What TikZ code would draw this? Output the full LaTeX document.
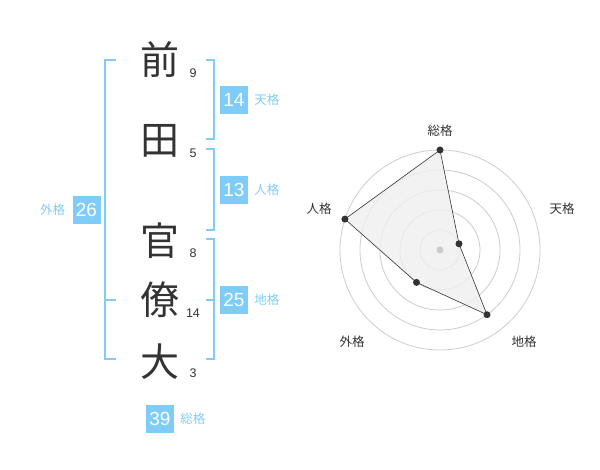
\documentclass[tikz,border=0pt]{standalone}
\usepackage{fontspec}
\setmainfont{Liberation Sans}
\newfontfamily\jp{Noto Sans CJK JP}
\usepackage{tikz}
\usetikzlibrary{calc,positioning}
\definecolor{skyb}{RGB}{128,204,249}
\definecolor{ink}{RGB}{51,51,51}
\definecolor{ring}{RGB}{204,204,204}
\definecolor{area}{RGB}{239,239,239}

\begin{document}
\begin{tikzpicture}[x=1pt,y=-1pt,
	kanji/.style={text=ink,font=\jp\fontsize{39}{39}\selectfont,inner sep=0pt},
	num/.style={text=ink,font=\fontsize{12.5}{12.5}\selectfont,inner sep=0pt},
	kaku/.style={fill=skyb,text=white,font=\fontsize{19}{19}\selectfont,minimum size=28pt,inner sep=0pt},
	kakulbl/.style={text=skyb,font=\jp\fontsize{12.5}{12.5}\selectfont,inner sep=0pt},
	brk/.style={draw=skyb,line width=2pt},
	axlbl/.style={text=ink,font=\jp\fontsize{12.5}{12.5}\selectfont,inner sep=0pt},
	pt/.style={fill=ink}]
					\useasboundingbox (0,0) rectangle (600,470);
					%NAME
					\node[kanji] (c1) at (160,60) {前};
					\node[kanji] (c2) at (160,141) {田};
					\node[kanji] (c3) at (160,241) {官};
					\node[kanji] (c4) at (160,300) {僚};
					\node[kanji] (c5) at (160,362) {大};
					\node[num] (n1) at (193,73) {9};
					\node[num] (n2) at (193,153) {5};
					\node[num] (n3) at (193,253) {8};
					\node[num] (n4) at (193,313) {14};
					\node[num] (n5) at (193,373) {3};
					%BRACKETS
					\draw[brk] (206,60) -- (214,60) -- (214,139.5) -- (206,139.5);
					\draw[brk] (206,149.5) -- (214,149.5) -- (214,230) -- (206,230);
					\draw[brk] (206,239.5) -- (214,239.5) -- (214,359.5) -- (206,359.5);
					\draw[brk] (206,300) -- (214,300);
					\draw[brk] (116,60) -- (105,60) -- (105,359.5) -- (116,359.5);
					\draw[brk] (105,300) -- (116,300);
					%KAKU
					\node[kaku] (ten) at (234,100) {14};
					\node[kakulbl,right=6pt of ten] (tenl) {天格};
					\node[kaku] (jin) at (234,190) {13};
					\node[kakulbl,right=6pt of jin] (jinl) {人格};
					\node[kaku] (chi) at (234,300) {25};
					\node[kakulbl,right=6pt of chi] (chil) {地格};
					\node[kaku] (gai) at (86.5,210) {26};
					\node[kakulbl,left=7pt of gai] (gail) {外格};
					\node[kaku] (sou) at (160,419) {39};
					\node[kakulbl,right=6pt of sou] (soul) {総格};
					%RADAR
					\coordinate (O) at (440,250);
					\draw[ring,line width=0.8pt] (O) circle (20) (O) circle (40) (O) circle (60) (O) circle (80) (O) circle (100);
					\coordinate (Psou) at (440,150);
					\coordinate (Pten) at (459,243.8);
					\coordinate (Pchi) at (487,314.7);
					\coordinate (Pgai) at (416.5,282.4);
					\coordinate (Pjin) at (344.9,219.1);
					\filldraw[fill=area,fill opacity=0.8,draw=ink,line width=0.6pt] (Psou) -- (Pten) -- (Pchi) -- (Pgai) -- (Pjin) -- cycle;
					\fill[ring] (O) circle (3.5);
					\fill[pt] (Psou) circle (3.5);
					\fill[pt] (Pten) circle (3.5);
					\fill[pt] (Pchi) circle (3.5);
					\fill[pt] (Pgai) circle (3.5);
					\fill[pt] (Pjin) circle (3.5);
					\node[axlbl] (Lsou) at (440,131) {総格};
					\node[axlbl] (Lten) at (562,209) {天格};
					\node[axlbl] (Ljin) at (319,209) {人格};
					\node[axlbl] (Lgai) at (352,342) {外格};
					\node[axlbl] (Lchi) at (524,342) {地格};
\end{tikzpicture}
\end{document}
